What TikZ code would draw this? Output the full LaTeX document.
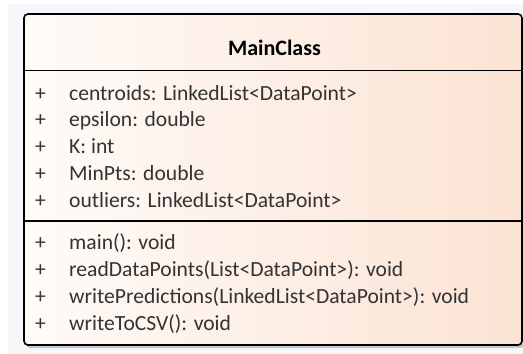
\documentclass[tikz,border=0pt]{standalone}
\usepackage{fontspec}
\setmainfont{Carlito}
\usetikzlibrary{positioning}

\definecolor{panelbg}{HTML}{F5F7FB}
\definecolor{classleft}{HTML}{FFFBF8}
\definecolor{classright}{HTML}{FBE3D3}
\definecolor{membertext}{HTML}{333333}

\tikzset{
    member/.style={anchor=base west, inner sep=0pt, text=membertext,
        font=\fontsize{21.6}{23}\selectfont},
    plus/.style={member},
    classname/.style={anchor=base, inner sep=0pt,
        font=\fontsize{22}{24}\selectfont\bfseries}
}

\begin{document}
\begin{tikzpicture}[x=1pt, y=-1pt]
    \useasboundingbox (0,0) rectangle (523,354);
    % panel behind the class
    \fill[panelbg] (8,4) rectangle (523,354);

    % shadow
    \fill[black!35, opacity=0.6, rounded corners=4pt] (26,17) rectangle (524,348);

    % class box
    \shade[left color=classleft, right color=classright, rounded corners=4pt]
        (24,14) rectangle (522,345);
    \draw[line width=1.6pt, rounded corners=4pt] (24,14) rectangle (522,345);
    \draw[line width=1.2pt] (24,70.5) -- (522,70.5);
    \draw[line width=1.2pt] (24,221) -- (522,221);

    % name
    \node[classname] (name) at (274.5,55) {MainClass};

    % attributes
    \foreach \txt [count=\i] in {centroids: LinkedList<DataPoint>, epsilon: double,
        K: int, MinPts: double, outliers: LinkedList<DataPoint>} {
        \node[plus] (attrvis\i) at (35,{100+26.75*(\i-1)}) {+};
        \node[member] (attr\i) at (69,{100+26.75*(\i-1)}) {\txt};
    }

    % operations
    \foreach \txt [count=\i] in {main(): void, readDataPoints(List<DataPoint>): void,
        writePredictions(LinkedList<DataPoint>): void, writeToCSV(): void} {
        \node[plus] (opvis\i) at (35,{249+27*(\i-1)}) {+};
        \node[member] (op\i) at (69,{249+27*(\i-1)}) {\txt};
    }
\end{tikzpicture}
\end{document}
